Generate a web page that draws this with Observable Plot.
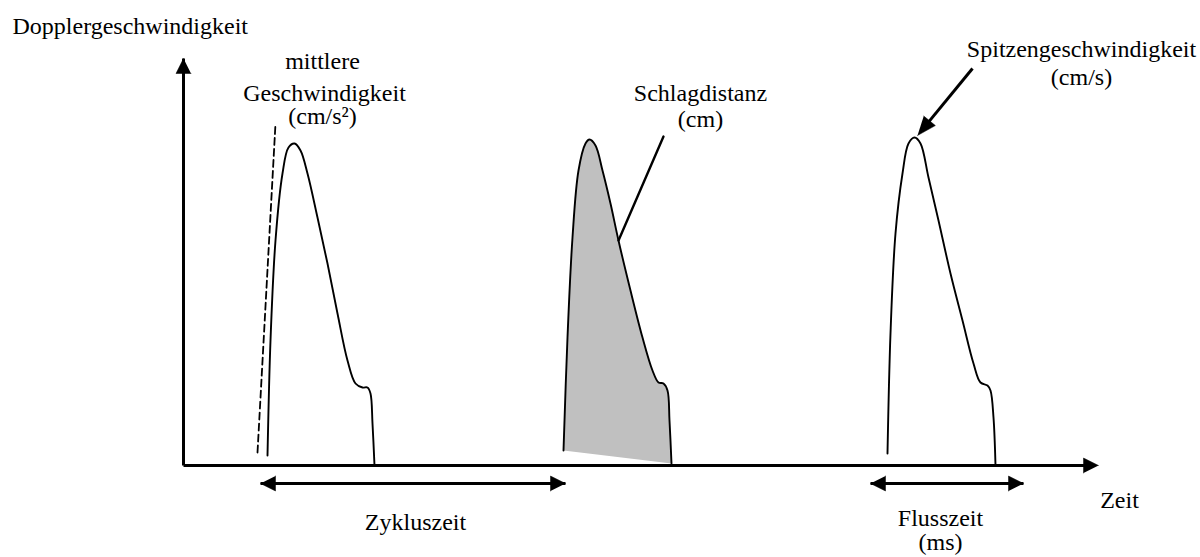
<!DOCTYPE html>
<html>
<head>
<meta charset="utf-8">
<script src="https://cdn.jsdelivr.net/npm/d3@7"></script>
<script src="https://cdn.jsdelivr.net/npm/@observablehq/plot@0.6"></script>
<style>
  html, body { margin: 0; padding: 0; background: #fff; }
  #chart svg { display: block; }
  #chart svg text { font-family: "Liberation Serif", Tinos, "Times New Roman", Times, "DejaVu Serif", serif; }
</style>
</head>
<body>
<div id="chart"></div>
<script>
// Time (t) and Doppler velocity (v) in schematic units; origin at the axis crossing.
const peak1T = [84, 87, 92, 99, 105, 111, 117, 124, 134, 144, 154, 164, 172, 179, 184, 187, 189, 191];
const peak1V = [10, 125, 225, 292, 318, 322, 315, 292, 248, 202, 152, 105, 82, 78, 78, 72, 42, 0];

const peak2T = [380, 384, 389, 395, 402, 406, 412, 419, 427, 435, 447, 459, 469, 475, 480, 484, 486, 488];
const peak2V = [15, 128, 228, 295, 322, 326, 320, 295, 262, 225, 175, 128, 95, 83, 82, 75, 45, 2];

const peak3T = [704, 707, 712, 719, 725, 731, 737, 745, 755, 767, 779, 790, 797, 804, 807, 810, 812];
const peak3V = [12, 132, 232, 292, 322, 328, 322, 288, 245, 192, 145, 102, 83, 80, 75, 48, 0];

// mean acceleration (dashed tangent)
const accelT = [74, 92];
const accelV = [13, 342];

// leader line to "Schlagdistanz"
const leaderT = [435, 480];
const leaderV = [225, 329];

// arrow to the peak velocity: [tail, tip]
const peakArrowT = [789, 734];
const peakArrowV = [397, 330];

// axes: [start, tip]
const axisYT = [0, 0];
const axisYV = [0, 407];
const axisXT = [0, 915];
const axisXV = [0, 0];

// interval arrows: [left tip, right tip]
const cycleT = [77, 382];
const cycleV = -18;
const flowT = [687, 840];
const flowV = -18;

// labels
const labelText = ["Dopplergeschwindigkeit", "mittlere", "Geschwindigkeit", "(cm/s²)",
  "Schlagdistanz", "(cm)", "Spitzengeschwindigkeit", "(cm/s)",
  "Zykluszeit", "Flusszeit", "(ms)", "Zeit"];
const labelT = [-171, 139, 141, 139, 517, 517, 898, 898, 232, 757, 757, 936];
const labelV = [439, 404, 372.5, 349, 372.5, 346.5, 416, 388.5, -57, -53, -77, -34.5];
const labelAnchor = ["start", "middle", "middle", "middle", "middle", "middle", "middle", "middle", "middle", "middle", "middle", "middle"];

// ---- build tables ----
const toPts = (T, V) => T.map((t, i) => ({t, v: V[i]}));
const peak1 = toPts(peak1T, peak1V);
const peak2 = toPts(peak2T, peak2V);
const peak3 = toPts(peak3T, peak3V);

function seg(id, T, V) { return T.map((t, i) => ({id, t, v: V[i]})); }

// arrowhead triangle computed from a tip and the direction it comes from
function head(id, tipT, tipV, fromT, fromV, len, half) {
  const dx = tipT - fromT, dy = tipV - fromV, d = Math.hypot(dx, dy);
  const ux = dx / d, uy = dy / d;
  const bx = tipT - ux * len, by = tipV - uy * len;
  return [
    {id, t: tipT, v: tipV},
    {id, t: bx - uy * half, v: by + ux * half},
    {id, t: bx + uy * half, v: by - ux * half}
  ];
}
function shaft(id, tipT, tipV, fromT, fromV, len) {
  const dx = tipT - fromT, dy = tipV - fromV, d = Math.hypot(dx, dy);
  return [{id, t: fromT, v: fromV}, {id, t: tipT - dx / d * (len - 2), v: tipV - dy / d * (len - 2)}];
}

const HL = 15, HW = 7.5;
const heads = [
  ...head("ay", axisYT[1], axisYV[1], axisYT[0], axisYV[0], HL, HW),
  ...head("ax", axisXT[1], axisXV[1], axisXT[0], axisXV[0], HL, HW),
  ...head("c1", cycleT[0], cycleV, cycleT[1], cycleV, HL, HW),
  ...head("c2", cycleT[1], cycleV, cycleT[0], cycleV, HL, HW),
  ...head("f1", flowT[0], flowV, flowT[1], flowV, HL, HW),
  ...head("f2", flowT[1], flowV, flowT[0], flowV, HL, HW),
  ...head("pk", peakArrowT[1], peakArrowV[1], peakArrowT[0], peakArrowV[0], 19, 7.5)
];

const thick = [
  ...seg("ay", axisYT, axisYV),
  ...shaft("ax", axisXT[1], axisXV[1], axisXT[0], axisXV[0], HL),
  ...seg("cy", cycleT, [cycleV, cycleV]),
  ...seg("fl", flowT, [flowV, flowV]),
  ...shaft("pk", peakArrowT[1], peakArrowV[1], peakArrowT[0], peakArrowV[0], 19)
];

const labels = labelText.map((text, i) => ({text, t: labelT[i], v: labelV[i], anchor: labelAnchor[i]}));

const serif = "Liberation Serif, Tinos, Times New Roman, Times, DejaVu Serif, serif";

const chart = Plot.plot({
  width: 1200,
  height: 557,
  margin: 0,
  x: {domain: [-183, 1017], range: [0, 1200], axis: null},
  y: {domain: [-92, 465], range: [557, 0], axis: null},
  style: {background: "#fff", color: "#000"},
  marks: [
    // shaded stroke-distance area
    Plot.line(peak2, {x: "t", y: "v", curve: "catmull-rom", fill: "#c0c0c0", stroke: "none"}),
    Plot.line(peak1, {x: "t", y: "v", curve: "catmull-rom", stroke: "#000", strokeWidth: 1.9}),
    Plot.line(peak2, {x: "t", y: "v", curve: "catmull-rom", stroke: "#000", strokeWidth: 1.9}),
    Plot.line(peak3, {x: "t", y: "v", curve: "catmull-rom", stroke: "#000", strokeWidth: 1.9}),
    Plot.line(toPts(accelT, accelV), {x: "t", y: "v", stroke: "#000", strokeWidth: 1.8, strokeDasharray: "7,4"}),
    Plot.line(toPts(leaderT, leaderV), {x: "t", y: "v", stroke: "#000", strokeWidth: 2.4}),
    Plot.line(thick, {x: "t", y: "v", z: "id", stroke: "#000", strokeWidth: 3, strokeLinecap: "butt"}),
    Plot.line(heads, {x: "t", y: "v", z: "id", fill: "#000", stroke: "#000", strokeWidth: 0.5, strokeLinejoin: "miter"}),
    Plot.text(labels, {x: "t", y: "v", text: "text", textAnchor: "start", filter: d => d.anchor === "start", fontSize: 24, fontFamily: serif, fill: "#000"}),
    Plot.text(labels, {x: "t", y: "v", text: "text", textAnchor: "middle", filter: d => d.anchor === "middle", fontSize: 24, fontFamily: serif, fill: "#000"})
  ]
});
document.getElementById("chart").appendChild(chart);
</script>
</body>
</html>
